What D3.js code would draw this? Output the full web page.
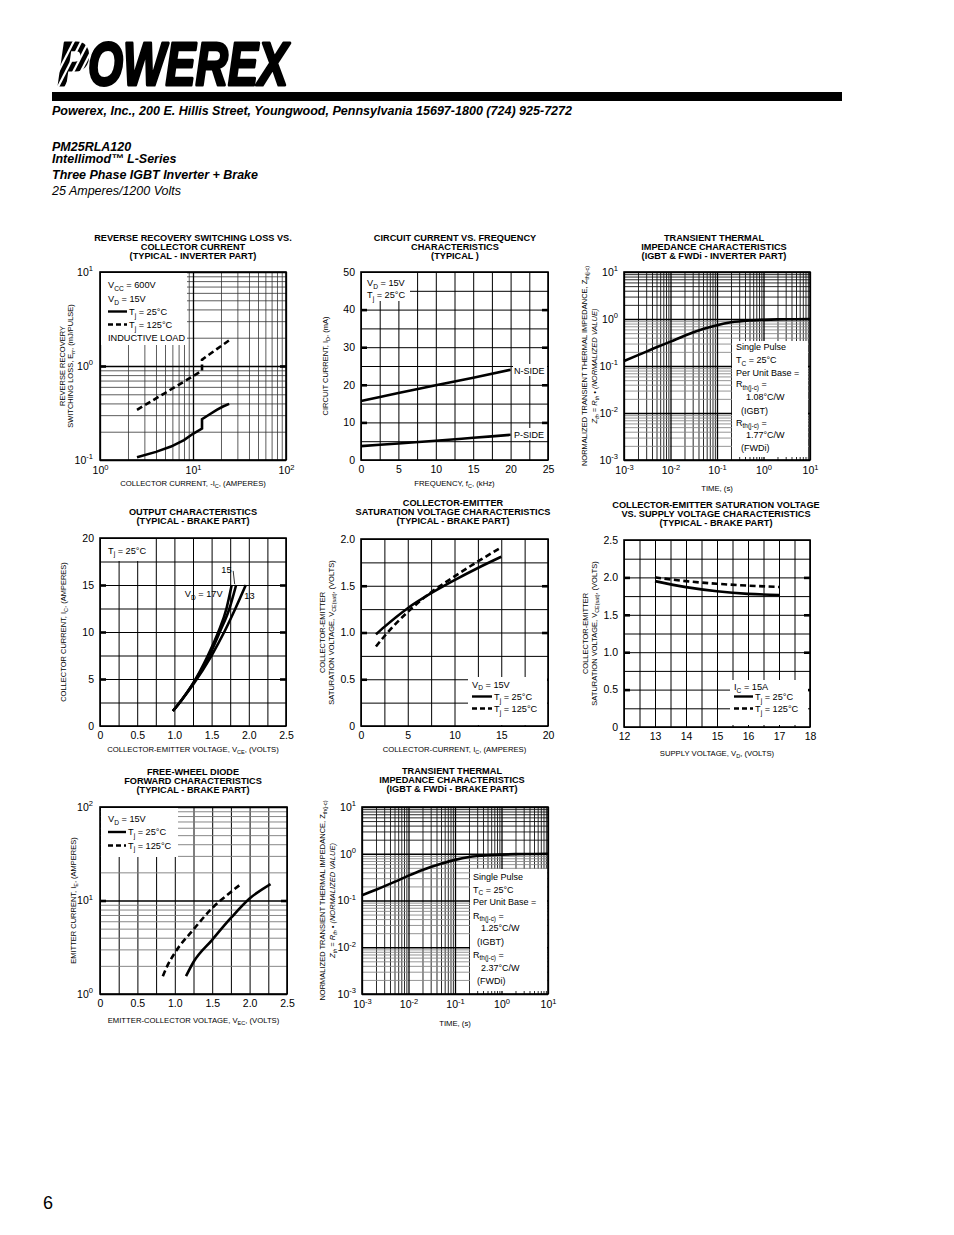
<!DOCTYPE html>
<html><head><meta charset="utf-8">
<script src="https://cdn.jsdelivr.net/npm/d3@7"></script>
<style>body{margin:0;background:#fff}</style>
</head><body>
<script>
// ================= DATA =================
// 1. Reverse recovery switching loss vs collector current (log-log)
const rrCurrent25  = [2.5, 4, 5.8, 8, 10, 12.5, 12.5, 15, 18, 21, 24.5];
const rrLoss25     = [0.107, 0.122, 0.139, 0.163, 0.19, 0.216, 0.272, 0.305, 0.342, 0.371, 0.395];
const rrCurrent125 = [2.5, 5, 8, 12.5, 12.5, 18, 24.5];
const rrLoss125    = [0.342, 0.516, 0.682, 0.89, 1.17, 1.51, 1.88];
const rrXTicks = [1, 10, 100];
const rrYTicks = [0.1, 1, 10];

// 2. Circuit current vs frequency
const freqKHz   = [0, 5, 10, 15, 20];
const nSideCurr = [15.7, 17.8, 19.9, 21.9, 24.0];
const pSideCurr = [3.7, 4.4, 5.1, 5.9, 6.7];
const ccXTicks = [0, 5, 10, 15, 20, 25];
const ccYTicks = [0, 10, 20, 30, 40, 50];

// 3. Transient thermal impedance (inverter part)
const thTimeInv = [0.001, 0.002, 0.005, 0.01, 0.02, 0.05, 0.1, 0.2, 0.5, 1, 2, 5, 10];
const thZInv    = [0.128, 0.17, 0.25, 0.33, 0.44, 0.61, 0.74, 0.85, 0.93, 0.96, 0.98, 0.99, 1.0];
const thXTicks = [0.001, 0.01, 0.1, 1, 10];
const thYTicks = [0.001, 0.01, 0.1, 1, 10];

// 4. Output characteristics (brake part)
const outIc    = [1.6, 2.8, 4.4, 7.5, 10, 12.5, 15];
const outVce17 = [0.98, 1.1, 1.24, 1.45, 1.59, 1.70, 1.77];
const outVce15 = [0.98, 1.1, 1.24, 1.47, 1.61, 1.74, 1.83];
const outVce13 = [0.98, 1.1, 1.25, 1.50, 1.67, 1.82, 1.96];
const outXTicks = [0, 0.5, 1.0, 1.5, 2.0, 2.5];
const outYTicks = [0, 5, 10, 15, 20];

// 5. Collector-emitter saturation voltage vs collector current
const satIc    = [1.6, 2.5, 5, 7.5, 10, 12.5, 15];
const satV25   = [0.98, 1.06, 1.26, 1.42, 1.56, 1.69, 1.81];
const satV125  = [0.85, 0.96, 1.22, 1.43, 1.60, 1.76, 1.91];
const satXTicks = [0, 5, 10, 15, 20];
const satYTicks = [0, 0.5, 1.0, 1.5, 2.0];

// 6. Saturation voltage vs supply voltage
const supplyV   = [13, 14, 15, 16, 17];
const supSat25  = [1.95, 1.87, 1.815, 1.78, 1.765];
const supSat125 = [2.0, 1.95, 1.915, 1.89, 1.872];
const supXTicks = [12, 13, 14, 15, 16, 17, 18];
const supYTicks = [0, 0.5, 1.0, 1.5, 2.0, 2.5];

// 7. Free-wheel diode forward characteristics
const fwdV25  = [1.15, 1.25, 1.5, 1.75, 2.0, 2.28];
const fwdI25  = [1.55, 2.2, 3.8, 6.5, 10.5, 15.0];
const fwdV125 = [0.84, 0.9, 1.0, 1.25, 1.5, 1.75, 1.87];
const fwdI125 = [1.55, 2.0, 2.75, 4.9, 8.3, 12.3, 14.7];
const fwdXTicks = [0, 0.5, 1.0, 1.5, 2.0, 2.5];
const fwdYTicks = [1, 10, 100];

// 8. Transient thermal impedance (brake part)
const thTimeBrk = [0.001, 0.002, 0.005, 0.01, 0.02, 0.05, 0.1, 0.2, 0.5, 1, 2, 5, 10];
const thZBrk    = [0.13, 0.17, 0.25, 0.34, 0.45, 0.61, 0.74, 0.85, 0.93, 0.96, 0.98, 0.99, 1.0];

// ================= RENDER =================
const FONT = "'Liberation Sans', Arial, Helvetica, sans-serif";
const svg = d3.select('body').append('svg').attr('width', 954).attr('height', 1235)
  .attr('font-family', FONT);
svg.append('rect').attr('width', 954).attr('height', 1235).attr('fill', '#fff');

function rich(sel, str, fs) {
  sel.text(null);
  const parts = str.split(/(_\{[^}]*\}|\^\{[^}]*\})/).filter(s => s !== '');
  let shift = 0;
  parts.forEach(p => {
    let t, dy;
    if (p.startsWith('_{')) {
      dy = fs * 0.28 - shift; shift = fs * 0.28;
      t = sel.append('tspan').attr('font-size', fs * 0.72).text(p.slice(2, -1));
    } else if (p.startsWith('^{')) {
      dy = -fs * 0.42 - shift; shift = -fs * 0.42;
      t = sel.append('tspan').attr('font-size', fs * 0.72).text(p.slice(2, -1));
    } else {
      dy = -shift; shift = 0;
      t = sel.append('tspan').text(p);
    }
    if (Math.abs(dy) > 1e-9) t.attr('dy', dy);
  });
  return sel;
}
function txt(g, x, y, str, fs, opts = {}) {
  const t = g.append('text').attr('x', x).attr('y', y).attr('font-size', fs)
    .attr('text-anchor', opts.anchor || 'start').attr('fill', '#000');
  if (opts.weight) t.attr('font-weight', opts.weight);
  if (opts.style) t.attr('font-style', opts.style);
  if (opts.rotate) t.attr('transform', `rotate(-90,${x},${y})`);
  if (opts.len) t.attr('textLength', opts.len).attr('lengthAdjust', 'spacingAndGlyphs');
  rich(t, str, fs);
  return t;
}

// ---------- Header ----------
const hdr = svg.append('g');
hdr.append('text').attr('x', 58).attr('y', 84.5).attr('font-size', 62)
  .attr('font-weight', 'bold').attr('font-style', 'italic')
  .attr('textLength', 230).attr('lengthAdjust', 'spacingAndGlyphs')
  .attr('stroke', '#000').attr('stroke-width', 3).attr('stroke-linejoin', 'round')
  .attr('fill', '#000').text('POWEREX');
// speed stripes cut through the P
[0, 1, 2, 3].forEach(i => {
  hdr.append('line').attr('x1', 50 + i * 7.5).attr('y1', 88).attr('x2', 76 + i * 7.5).attr('y2', 37)
    .attr('stroke', '#fff').attr('stroke-width', 2.2);
});
hdr.append('rect').attr('x', 52).attr('y', 92).attr('width', 790).attr('height', 9).attr('fill', '#000');
txt(hdr, 52, 115, 'Powerex, Inc., 200 E. Hillis Street, Youngwood, Pennsylvania 15697-1800 (724) 925-7272', 12.5,
  { weight: 'bold', style: 'italic', len: 520 });
txt(hdr, 52, 150.5, 'PM25RLA120', 12.5, { weight: 'bold', style: 'italic' });
txt(hdr, 52, 162.5, 'Intellimod™ L-Series', 12.5, { weight: 'bold', style: 'italic' });
txt(hdr, 52, 178.5, 'Three Phase IGBT Inverter + Brake', 12.5, { weight: 'bold', style: 'italic' });
txt(hdr, 52, 194.5, '25 Amperes/1200 Volts', 12.5, { style: 'italic' });
txt(hdr, 43, 1209, '6', 18);

// ---------- helpers ----------
function logMinors(dom) {
  const out = [];
  const a = Math.round(Math.log10(dom[0])), b = Math.round(Math.log10(dom[1]));
  for (let e = a; e < b; e++) for (let k = 2; k <= 9; k++) out.push(+(k * Math.pow(10, e)).toPrecision(6));
  return out;
}
function linRange(a, b, s) { const o = []; for (let v = a; v <= b + s * 1e-6; v += s) o.push(+v.toFixed(6)); return o; }
function supLabel(d) { return '10^{' + Math.round(Math.log10(d)) + '}'; }

function buildChart(c) {
  const g = svg.append('g');
  const x = (c.xLog ? d3.scaleLog() : d3.scaleLinear()).domain(c.xDom).range([c.x0, c.x0 + c.w]);
  const y = (c.yLog ? d3.scaleLog() : d3.scaleLinear()).domain(c.yDom).range([c.y0 + c.h, c.y0]);
  const vMin = c.xLog ? logMinors(c.xDom) : linRange(c.xDom[0], c.xDom[1], c.xStep);
  const hMin = c.yLog ? logMinors(c.yDom) : linRange(c.yDom[0], c.yDom[1], c.yStep);

  // vertical grid
  const vg = g.append('g').attr('transform', `translate(0,${c.y0 + c.h})`)
    .call(d3.axisBottom(x).tickValues(vMin).tickSize(-c.h).tickFormat(''));
  vg.select('.domain').remove();
  vg.selectAll('.tick line').attr('stroke', d => c.vColor ? c.vColor(d) : '#000')
    .attr('stroke-width', d => c.vWidth ? c.vWidth(d) : 1);
  // horizontal grid
  const hg = g.append('g').attr('transform', `translate(${c.x0},0)`)
    .call(d3.axisLeft(y).tickValues(hMin).tickSize(-c.w).tickFormat(''));
  hg.select('.domain').remove();
  hg.selectAll('.tick line').attr('stroke', d => c.hColor ? c.hColor(d) : '#000')
    .attr('stroke-width', d => c.hWidth ? c.hWidth(d) : 1);
  // log decade lines
  if (c.xLog) {
    const mg = g.append('g').attr('transform', `translate(0,${c.y0 + c.h})`)
      .call(d3.axisBottom(x).tickValues(c.xTicks).tickSize(-c.h).tickFormat(''));
    mg.select('.domain').remove();
    mg.selectAll('.tick line').attr('stroke', '#000').attr('stroke-width', 1.3);
  }
  if (c.yLog) {
    const mg = g.append('g').attr('transform', `translate(${c.x0},0)`)
      .call(d3.axisLeft(y).tickValues(c.yTicks).tickSize(-c.w).tickFormat(''));
    mg.select('.domain').remove();
    mg.selectAll('.tick line').attr('stroke', '#000').attr('stroke-width', 1.3);
  }
  // heavy y ticks on left/right edges
  if (c.heavy !== false) {
    const inner = c.yTicks.slice(1, -1);
    [[c.x0, d3.axisLeft], [c.x0 + c.w, d3.axisRight]].forEach(([tx, fn]) => {
      const t = g.append('g').attr('transform', `translate(${tx},0)`)
        .call(fn(y).tickValues(inner).tickSize(-6).tickFormat(''));
      t.select('.domain').remove();
      t.selectAll('.tick line').attr('stroke', '#000').attr('stroke-width', 2.6);
    });
  }

  // legend / label boxes (white)
  (c.boxes || []).forEach(b => g.append('rect').attr('x', c.x0 + b[0]).attr('y', c.y0 + b[1])
    .attr('width', b[2]).attr('height', b[3]).attr('fill', '#fff'));

  // curves
  (c.series || []).forEach(s => {
    const pts = s.xs.map((v, i) => [v, s.ys[i]]);
    g.append('path').datum(pts)
      .attr('d', d3.line().x(d => x(d[0])).y(d => y(d[1])).curve(s.curve || d3.curveMonotoneX))
      .attr('fill', 'none').attr('stroke', '#000').attr('stroke-width', s.width || 2.6)
      .attr('stroke-dasharray', s.dash ? '6,3.5' : null);
  });

  // frame
  g.append('rect').attr('x', c.x0).attr('y', c.y0).attr('width', c.w).attr('height', c.h)
    .attr('fill', 'none').attr('stroke', '#000').attr('stroke-width', 1.6);

  // tick labels
  const fs = 10.5;
  const xa = g.append('g').attr('transform', `translate(0,${c.y0 + c.h})`)
    .call(d3.axisBottom(x).tickValues(c.xTicks).tickSize(0).tickPadding(c.xLog ? 7 : 6)
      .tickFormat(c.xLog ? supLabel : c.xFmt));
  xa.select('.domain').remove();
  xa.selectAll('text').attr('font-size', fs).attr('font-family', FONT).attr('fill', '#000')
    .each(function (d) { if (c.xLog) rich(d3.select(this), supLabel(d), fs); });
  const ya = g.append('g').attr('transform', `translate(${c.x0},0)`)
    .call(d3.axisLeft(y).tickValues(c.yTicks).tickSize(0).tickPadding(c.yPad || 6)
      .tickFormat(c.yLog ? supLabel : c.yFmt));
  ya.select('.domain').remove();
  ya.selectAll('text').attr('font-size', fs).attr('font-family', FONT).attr('fill', '#000')
    .each(function (d) { if (c.yLog) rich(d3.select(this), supLabel(d), fs); });

  // titles
  c.title.forEach((t, i) => txt(g, c.titleX, c.titleY + i * 9.2, t, 9.2, { weight: 'bold', anchor: 'middle' }));
  txt(g, c.x0 + c.w / 2, c.xTitleY, c.xTitle, 7.7, { anchor: 'middle' });
  c.yTitle.forEach((t, i) => txt(g, c.yTitleX[i], c.y0 + c.h / 2, t, 7.5,
    { anchor: 'middle', rotate: true, style: (c.yTitleItalic && c.yTitleItalic[i]) ? 'italic' : null }));

  // legend texts & samples
  (c.texts || []).forEach(t => txt(g, c.x0 + t[0], c.y0 + t[1], t[2], t[3] || 9.2, { anchor: t[4] || 'start' }));
  (c.samples || []).forEach(s => g.append('line').attr('x1', c.x0 + s[0]).attr('x2', c.x0 + s[1])
    .attr('y1', c.y0 + s[2]).attr('y2', c.y0 + s[2]).attr('stroke', '#000').attr('stroke-width', 2.4)
    .attr('stroke-dasharray', s[3] ? '5,3' : null));
  if (c.extra) c.extra(g, x, y);
  return { x, y };
}

const fmt1 = d => d === 0 ? '0' : d3.format('.1f')(d);
const fmt0 = d => String(d);

// 1
buildChart({
  x0: 100, y0: 272, w: 186, h: 188, xLog: true, yLog: true, xDom: [1, 100], yDom: [0.1, 10],
  xTicks: rrXTicks, yTicks: rrYTicks, yPad: 7,
  vColor: () => '#333', vWidth: () => 0.8, hColor: () => '#333', hWidth: () => 0.8,
  title: ['REVERSE RECOVERY SWITCHING LOSS VS.', 'COLLECTOR CURRENT', '(TYPICAL - INVERTER PART)'],
  titleX: 193, titleY: 241,
  xTitle: 'COLLECTOR CURRENT, -I_{C}, (AMPERES)', xTitleY: 486,
  yTitle: ['REVERSE RECOVERY', 'SWITCHING LOSS, E_{rr}, (mJ/PULSE)'], yTitleX: [65, 73],
  boxes: [[1, 1, 86, 72]],
  texts: [[8, 16, 'V_{CC} = 600V'], [8, 30, 'V_{D} = 15V'], [29, 43, 'T_{j} = 25°C'],
          [29, 56, 'T_{j} = 125°C'], [8, 69, 'INDUCTIVE LOAD']],
  samples: [[8, 27, 39.5, false], [8, 27, 52.5, true]],
  series: [{ xs: rrCurrent25, ys: rrLoss25, curve: d3.curveLinear },
           { xs: rrCurrent125, ys: rrLoss125, curve: d3.curveLinear, dash: true }]
});

// 2
buildChart({
  x0: 361, y0: 272, w: 187, h: 188, xDom: [0, 25], yDom: [0, 50], xStep: 2.5, yStep: 5,
  xTicks: ccXTicks, yTicks: ccYTicks, xFmt: fmt0, yFmt: fmt0,
  title: ['CIRCUIT CURRENT VS. FREQUENCY', 'CHARACTERISTICS', '(TYPICAL )'],
  titleX: 455, titleY: 241,
  xTitle: 'FREQUENCY, f_{C}, (kHz)', xTitleY: 486,
  yTitle: ['CIRCUIT CURRENT, I_{D}, (mA)'], yTitleX: [328],
  boxes: [[1, 1, 48, 28], [152, 92, 34, 12], [152, 156, 34, 12]],
  texts: [[6, 14, 'V_{D} = 15V'], [6, 26, 'T_{j} = 25°C'], [153, 101.5, 'N-SIDE', 9], [153, 165.5, 'P-SIDE', 9]],
  series: [{ xs: freqKHz, ys: nSideCurr }, { xs: freqKHz, ys: pSideCurr }]
});

// 3
const thV = d => '#111';
const thH = d => d >= 1 ? '#111' : '#8a8a8a';
buildChart({
  x0: 624, y0: 272, w: 186, h: 188, xLog: true, yLog: true, xDom: [0.001, 10], yDom: [0.001, 10],
  xTicks: thXTicks, yTicks: thYTicks, heavy: false,
  vColor: thV, vWidth: () => 0.9, hColor: thH, hWidth: () => 0.9,
  title: ['TRANSIENT THERMAL', 'IMPEDANCE CHARACTERISTICS', '(IGBT & FWDi - INVERTER PART)'],
  titleX: 714, titleY: 241,
  xTitle: 'TIME, (s)', xTitleY: 491,
  yTitle: ['NORMALIZED TRANSIENT THERMAL IMPEDANCE, Z_{th(j-c)}', 'Z_{th} = R_{th} • (NORMALIZED VALUE)'],
  yTitleX: [587, 597], yTitleItalic: [false, true],
  boxes: [[108, 69, 76, 116]],
  texts: [[112, 77.5, 'Single Pulse', 9], [112, 91, 'T_{C} = 25°C', 9], [112, 103.5, 'Per Unit Base =', 9],
          [112, 115, 'R_{th(j-c)} =', 9], [122, 127.5, '1.08°C/W', 9], [117, 141.5, '(IGBT)', 9],
          [112, 153.5, 'R_{th(j-c)} =', 9], [122, 166, '1.77°C/W', 9], [117, 178.5, '(FWDi)', 9]],
  series: [{ xs: thTimeInv, ys: thZInv }]
});

// 4
buildChart({
  x0: 100, y0: 538, w: 186, h: 188, xDom: [0, 2.5], yDom: [0, 20], xStep: 0.25, yStep: 2.5,
  xTicks: outXTicks, yTicks: outYTicks, xFmt: fmt1, yFmt: fmt0,
  title: ['OUTPUT CHARACTERISTICS', '(TYPICAL - BRAKE PART)'],
  titleX: 193, titleY: 515,
  xTitle: 'COLLECTOR-EMITTER VOLTAGE, V_{CE}, (VOLTS)', xTitleY: 752,
  yTitle: ['COLLECTOR CURRENT, I_{C}, (AMPERES)'], yTitleX: [66],
  boxes: [[1, 1, 48, 22]],
  texts: [[8, 15.5, 'T_{j} = 25°C']],
  series: [{ xs: outVce17, ys: outIc }, { xs: outVce15, ys: outIc }, { xs: outVce13, ys: outIc }],
  extra: (g, x, y) => {
    txt(g, x(1.14), y(13.7), 'V_{D} = 17V', 9.2);
    txt(g, x(1.63), y(16.3), '15', 9.2);
    txt(g, x(1.94), y(13.5), '13', 9.2);
    g.append('line').attr('x1', x(1.79)).attr('y1', y(16.5)).attr('x2', x(1.81)).attr('y2', y(15.1))
      .attr('stroke', '#000').attr('stroke-width', 0.8);
  }
});

// 5
buildChart({
  x0: 361, y0: 539, w: 187, h: 187, xDom: [0, 20], yDom: [0, 2], xStep: 2.5, yStep: 0.25,
  xTicks: satXTicks, yTicks: satYTicks, xFmt: fmt0, yFmt: fmt1,
  title: ['COLLECTOR-EMITTER', 'SATURATION VOLTAGE CHARACTERISTICS', '(TYPICAL - BRAKE PART)'],
  titleX: 453, titleY: 506,
  xTitle: 'COLLECTOR-CURRENT, I_{C}, (AMPERES)', xTitleY: 752,
  yTitle: ['COLLECTOR-EMITTER', 'SATURATION VOLTAGE, V_{CE(sat)}, (VOLTS)'], yTitleX: [325, 334],
  boxes: [[107, 138, 79, 48]],
  texts: [[111, 148.5, 'V_{D} = 15V'], [133, 161, 'T_{j} = 25°C'], [133, 173, 'T_{j} = 125°C']],
  samples: [[111, 131, 157.5, false], [111, 131, 169.5, true]],
  series: [{ xs: satIc, ys: satV25 }, { xs: satIc, ys: satV125, dash: true }]
});

// 6
buildChart({
  x0: 624, y0: 540, w: 186, h: 187, xDom: [12, 18], yDom: [0, 2.5], xStep: 0.5, yStep: 0.25,
  xTicks: supXTicks, yTicks: supYTicks, xFmt: fmt0, yFmt: fmt1,
  title: ['COLLECTOR-EMITTER SATURATION VOLTAGE', 'VS. SUPPLY VOLTAGE CHARACTERISTICS', '(TYPICAL - BRAKE PART)'],
  titleX: 716, titleY: 508,
  xTitle: 'SUPPLY VOLTAGE, V_{D}, (VOLTS)', xTitleY: 756,
  yTitle: ['COLLECTOR-EMITTER', 'SATURATION VOLTAGE, V_{CE(sat)}, (VOLTS)'], yTitleX: [588, 597],
  boxes: [[106, 140, 78, 45]],
  texts: [[110, 150, 'I_{C} = 15A'], [131, 160, 'T_{j} = 25°C'], [131, 172, 'T_{j} = 125°C']],
  samples: [[110, 129, 156.5, false], [110, 129, 168.5, true]],
  series: [{ xs: supplyV, ys: supSat25 }, { xs: supplyV, ys: supSat125, dash: true }]
});

// 7
buildChart({
  x0: 100, y0: 807, w: 187, h: 187, xDom: [0, 2.5], yLog: true, yDom: [1, 100], xStep: 0.25,
  xTicks: fwdXTicks, yTicks: fwdYTicks, xFmt: fmt1, yPad: 7,
  hColor: () => '#7a7a7a', hWidth: () => 0.9,
  title: ['FREE-WHEEL DIODE', 'FORWARD CHARACTERISTICS', '(TYPICAL - BRAKE PART)'],
  titleX: 193, titleY: 775,
  xTitle: 'EMITTER-COLLECTOR VOLTAGE, V_{EC}, (VOLTS)', xTitleY: 1023,
  yTitle: ['EMITTER CURRENT, I_{E}, (AMPERES)'], yTitleX: [76],
  boxes: [[1, 1, 77, 49]],
  texts: [[8, 15, 'V_{D} = 15V'], [28, 28, 'T_{j} = 25°C'], [28, 41.5, 'T_{j} = 125°C']],
  samples: [[8, 26, 25, false], [8, 26, 38.5, true]],
  series: [{ xs: fwdV25, ys: fwdI25 }, { xs: fwdV125, ys: fwdI125, dash: true }]
});

// 8
buildChart({
  x0: 362, y0: 807, w: 186, h: 187, xLog: true, yLog: true, xDom: [0.001, 10], yDom: [0.001, 10],
  xTicks: thXTicks, yTicks: thYTicks, heavy: false,
  vColor: thV, vWidth: () => 0.9, hColor: thH, hWidth: () => 0.9,
  title: ['TRANSIENT THERMAL', 'IMPEDANCE CHARACTERISTICS', '(IGBT & FWDi - BRAKE PART)'],
  titleX: 452, titleY: 774,
  xTitle: 'TIME, (s)', xTitleY: 1026,
  yTitle: ['NORMALIZED TRANSIENT THERMAL IMPEDANCE, Z_{th(j-c)}', 'Z_{th} = R_{th} • (NORMALIZED VALUE)'],
  yTitleX: [325, 335], yTitleItalic: [false, true],
  boxes: [[108, 62, 77, 122]],
  texts: [[111, 72.5, 'Single Pulse', 9], [111, 85.5, 'T_{C} = 25°C', 9], [111, 98, 'Per Unit Base =', 9],
          [111, 111.5, 'R_{th(j-c)} =', 9], [119, 124, '1.25°C/W', 9], [115, 138, '(IGBT)', 9],
          [111, 150.5, 'R_{th(j-c)} =', 9], [119, 163.5, '2.37°C/W', 9], [115, 176.5, '(FWDi)', 9]],
  series: [{ xs: thTimeBrk, ys: thZBrk }]
});
</script></body></html>
